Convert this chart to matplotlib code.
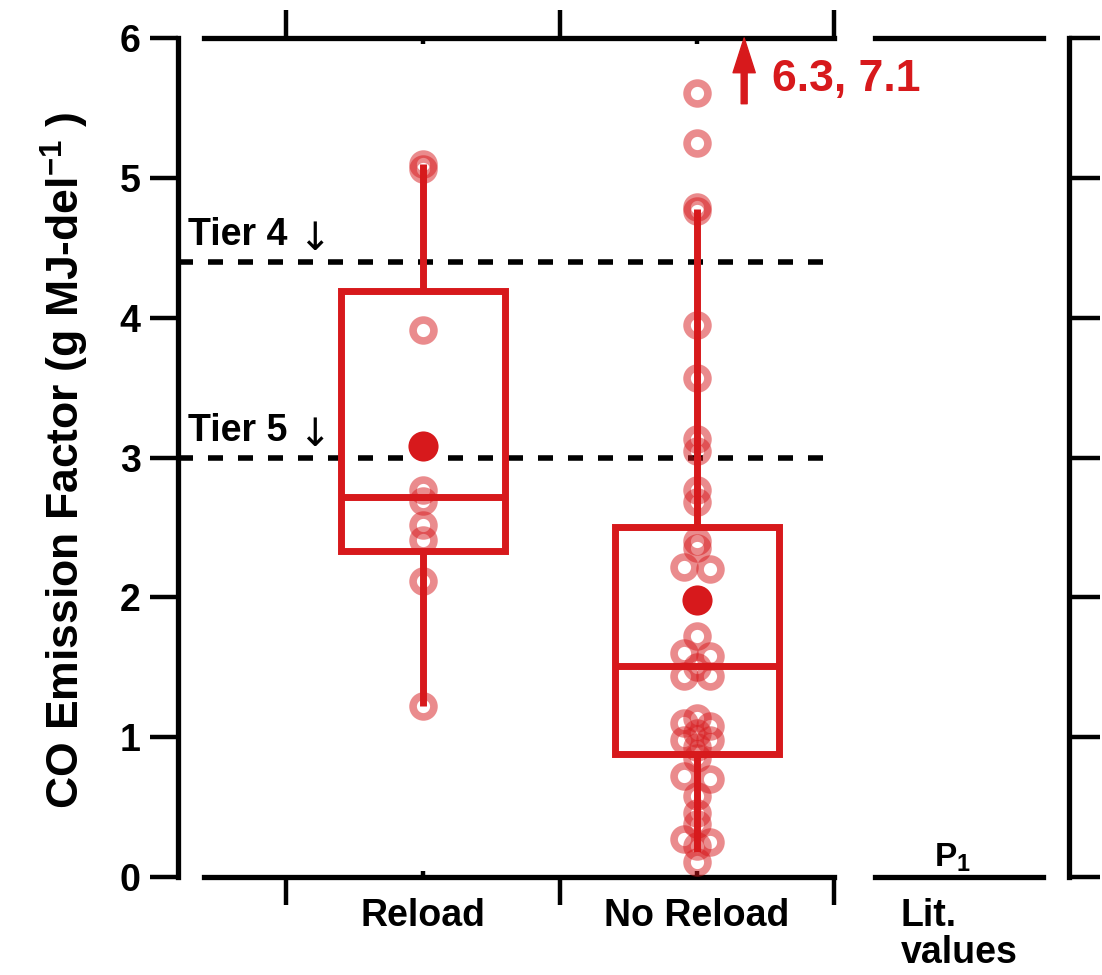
import matplotlib
matplotlib.use('Agg')
import matplotlib.pyplot as plt
import matplotlib.transforms as mtransforms
from matplotlib.patches import Rectangle

plt.rcParams['font.family'] = ['Liberation Sans', 'DejaVu Sans']
plt.rcParams['font.weight'] = 'bold'
plt.rcParams['mathtext.fontset'] = 'custom'
plt.rcParams['mathtext.bf'] = 'Liberation Sans:bold'
plt.rcParams['mathtext.rm'] = 'Liberation Sans:bold'
plt.rcParams['mathtext.default'] = 'bf'

RED = '#d7191c'

# data
categories = ['Reload', 'No Reload']
reload_pts = [5.10, 5.06, 3.91, 2.77, 2.69, 2.52, 2.41, 2.12, 1.22]
noreload_pts = [5.61, 5.25, 4.79, 4.76, 3.95, 3.57, 3.13, 3.05, 2.77, 2.68,
                2.40, 2.35, 2.22, 2.20, 1.72, 1.60, 1.58, 1.50, 1.44, 1.44,
                1.14, 1.10, 1.08, 1.03, 0.98, 0.98, 0.93, 0.85, 0.72, 0.70,
                0.58, 0.46, 0.38, 0.27, 0.25, 0.22, 0.11]
noreload_side = [0, 0, 0, 0, 0, 0, 0, 0, 0, 0,
                 0, 0, -1, 1, 0, -1, 1, 0, -1, 1,
                 0, -1, 1, 0, -1, 1, 0, 0, -1, 1,
                 0, 0, 0, -1, 1, 0, 0]
box_q1 = [2.33, 0.88]
box_med = [2.72, 1.51]
box_q3 = [4.19, 2.50]
whisk_lo = [1.22, 0.18]
whisk_hi = [5.10, 4.78]
means = [3.08, 1.98]
tier_levels = [4.4, 3.0]
tier_names = ['Tier 4', 'Tier 5']
offscale_label = '6.3, 7.1'

JITTER = 0.047
BOX_HALF = 0.30

fig = plt.figure(figsize=(11.02, 9.75), dpi=100)
ax = fig.add_axes([204 / 1102, 98 / 975, 630 / 1102, 839 / 975])
ax2 = fig.add_axes([875 / 1102, 98 / 975, 168 / 1102, 839 / 975])
ax2.set_facecolor('none')

# left panel
ax.set_xlim(0.2, 2.5)
ax.set_ylim(0, 6)
for s in ['left', 'top', 'bottom']:
    ax.spines[s].set_linewidth(3.8)
ax.spines['right'].set_visible(False)
ax.spines['left'].set_position(('outward', 18.7))

ax.set_yticks(range(7))
ax.tick_params(axis='y', which='major', direction='out', length=20, width=3.2,
               labelsize=27, pad=7, right=False)
ax.set_xticks([0.5, 1.5, 2.5])
ax.set_xticklabels([])
ax.set_xticks([1, 2], minor=True)
ax.set_xticklabels(categories, minor=True)
ax.tick_params(axis='x', which='major', direction='out', length=20, width=3.2,
               top=True, bottom=True)
ax.tick_params(axis='x', which='minor', direction='in', length=4, width=3.2,
               top=True, bottom=True, labelsize=27, pad=15)

# tier lines
trans = mtransforms.blended_transform_factory(ax.transAxes, ax.transData)
for lvl, name in zip(tier_levels, tier_names):
    ax.plot([-0.041, 1], [lvl, lvl], transform=trans, color='black', lw=4,
            ls=(0, (2.7, 2.7)), clip_on=False, zorder=2)
    ax.text(-0.0254, lvl + 0.12, name, transform=trans, fontsize=27,
            ha='left', va='baseline')
    ax.text(0.1746, lvl + 0.16, '\u2193', transform=trans, fontsize=28,
            fontweight='normal', family=['DejaVu Sans'], ha='center', va='center')

# boxes
for i, x in enumerate([1, 2]):
    ax.add_patch(Rectangle((x - BOX_HALF, box_q1[i]), 2 * BOX_HALF, box_q3[i] - box_q1[i],
                           fill=False, ec=RED, lw=5, zorder=3))
    ax.plot([x - BOX_HALF, x + BOX_HALF], [box_med[i], box_med[i]], color=RED, lw=5,
            solid_capstyle='butt', zorder=3)
    ax.plot([x, x], [box_q3[i], whisk_hi[i]], color=RED, lw=5, solid_capstyle='butt', zorder=3)
    ax.plot([x, x], [whisk_lo[i], box_q1[i]], color=RED, lw=5, solid_capstyle='butt', zorder=3)

ring = dict(ls='none', marker='o', ms=15, mfc='none', mec=RED, mew=5.5,
            alpha=0.5, zorder=4, clip_on=False)
ax.plot([1] * len(reload_pts), reload_pts, **ring)
ax.plot([2 + JITTER * s for s in noreload_side], noreload_pts, **ring)

ax.plot([1, 2], means, ls='none', marker='o', ms=24.5, mfc=RED, mec='white',
        mew=2.8, zorder=6, clip_on=False)

# off-scale values
ax.annotate('', xy=(2.172, 6.0), xytext=(2.172, 5.53),
            arrowprops=dict(facecolor=RED, edgecolor=RED, width=4.3,
                            headwidth=16, headlength=25, shrink=0),
            annotation_clip=False)
ax.text(2.274, 5.70, offscale_label, color=RED, fontsize=32, ha='left', va='center',
        zorder=10)

# right panel (literature values)
ax2.set_xlim(0, 1)
ax2.set_ylim(0, 6)
ax2.spines['left'].set_visible(False)
for s in ['right', 'top', 'bottom']:
    ax2.spines[s].set_linewidth(3.8)
ax2.spines['right'].set_position(('outward', 18.7))
ax2.yaxis.tick_right()
ax2.set_yticks(range(7))
ax2.tick_params(axis='y', direction='out', length=22, width=3.2,
                labelright=False, left=False)
ax2.set_xticks([0.5])
ax2.set_xticklabels(['Lit.\nvalues'])
ax2.tick_params(axis='x', length=0, labelsize=27, pad=15)
for t in ax2.get_xticklabels():
    t.set_multialignment('left')
    t.set_linespacing(1.05)
ax2.text(0.464, 0.003, 'P$_1$', transform=ax2.transAxes, fontsize=24,
         ha='center', va='bottom')

fig.text(0.059, 0.528, 'CO Emission Factor (g MJ-del$^{-1}$ )', rotation=90,
         ha='center', va='center', fontsize=32)

fig.savefig('out.png', dpi=100)
